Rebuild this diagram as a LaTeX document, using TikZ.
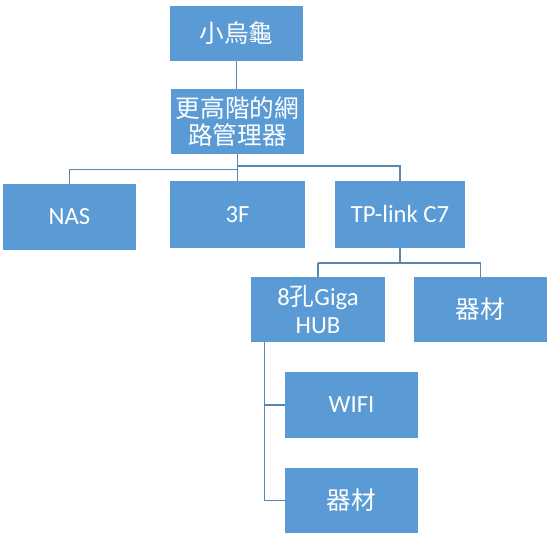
\documentclass[tikz,border=0pt]{standalone}
\usepackage{fontspec}
\setmainfont{Carlito}
\newfontfamily\cjk{Noto Sans CJK TC}
\definecolor{boxblue}{HTML}{5B9BD5}
\definecolor{linecol}{HTML}{5A87B0}
\begin{document}
\begin{tikzpicture}[x=0.75pt,y=-0.75pt,
  box/.style={fill=boxblue,draw=none,text=white,align=center,inner sep=0pt,
    font=\fontsize{18.5}{21}\selectfont},
  conn/.style={draw=linecol,line width=0.9pt}]
\useasboundingbox (0,0) rectangle (554,535);
\node[box,minimum width=133*0.75pt,minimum height=55*0.75pt] (top) at (236.5,33.5) {\cjk 小烏龜};
\node[box,minimum width=133*0.75pt,minimum height=65*0.75pt,font=\fontsize{18.5}{20}\selectfont] (mgr) at (237.5,121.5) {\cjk 更高階的網\\\cjk 路管理器};
\node[box,minimum width=133*0.75pt,minimum height=66*0.75pt] (nas) at (69.5,217) {NAS};
\node[box,minimum width=135*0.75pt,minimum height=66*0.75pt] (f3) at (237.5,214.5) {3F};
\node[box,minimum width=130*0.75pt,minimum height=66*0.75pt] (tp) at (400,214.5) {TP-link C7};
\node[box,minimum width=134*0.75pt,minimum height=65*0.75pt] (hub) at (318,309.5) {8{\cjk 孔}Giga\\HUB};
\node[box,minimum width=133*0.75pt,minimum height=65*0.75pt] (eq1) at (480.5,309.5) {\cjk 器材};
\node[box,minimum width=133*0.75pt,minimum height=66*0.75pt] (wifi) at (351.5,405) {WIFI};
\node[box,minimum width=133*0.75pt,minimum height=65*0.75pt] (eq2) at (351.5,500.5) {\cjk 器材};
% connectors
\draw[conn] (top.south) -- (top.south |- mgr.north);
\draw[conn] (mgr.south) -- (f3.north);
\draw[conn] (f3.north |- 0,166) -| (tp.north);
\draw[conn] (f3.north |- 0,169.5) -| (nas.north);
\draw[conn] (tp.south) -- (tp.south |- 0,263);
\draw[conn] (hub.north |- 0,263) -| (eq1.north);
\draw[conn] (hub.north |- 0,263) -- (hub.north);
\coordinate (hubtap) at ([xshift=14*0.75pt]hub.south west);
\draw[conn] (hubtap) |- (eq2.west);
\draw[conn] (hubtap |- wifi.west) -- (wifi.west);
\end{tikzpicture}
\end{document}
